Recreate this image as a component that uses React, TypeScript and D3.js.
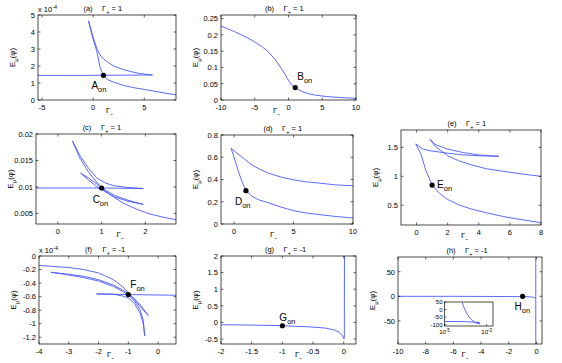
import React from "react";
import * as d3 from "d3";

type Pt = [number, number];

// ---- panel (a), y in units of 1e-4
const aFlat: Pt[] = [[-5.4, 1.45], [0, 1.45], [5.8, 1.47]];
const aUpper: Pt[] = [[-0.45, 4.65], [-0.2, 4.1], [0, 3.7], [0.34, 3.05], [0.68, 2.64], [1, 2.42], [1.37, 2.25], [2, 2.0], [3, 1.78], [3.76, 1.66], [4.5, 1.56], [5.8, 1.47]];
const aLower: Pt[] = [[-0.45, 4.65], [-0.2, 4.0], [0, 3.55], [0.34, 2.9], [0.68, 1.9], [1, 1.45], [1.4, 1.2], [2, 1.05], [3, 0.85], [4, 0.72], [5, 0.62], [6, 0.52], [7, 0.41], [8.1, 0.3]];
const aOn: Pt = [1, 1.45];

// ---- panel (b)
const bCurve: Pt[] = [[-10, 0.227], [-8, 0.21], [-6, 0.19], [-5, 0.178], [-4, 0.165], [-3, 0.148], [-2, 0.125], [-1, 0.095], [-0.5, 0.078], [0, 0.06], [0.5, 0.045], [1, 0.038], [1.5, 0.032], [2, 0.026], [3, 0.019], [4, 0.015], [5, 0.012], [6, 0.01], [8, 0.007], [10, 0.005]];
const bOn: Pt = [1, 0.038];

// ---- panel (c)
const cFlat: Pt[] = [[-0.5, 0.0098], [1, 0.0098], [1.95, 0.0097]];
const c1: Pt[] = [[0.33, 0.0187], [0.5, 0.0155], [0.7, 0.0128], [0.9, 0.0108], [1, 0.0098], [1.2, 0.0085], [1.5, 0.0069], [1.8, 0.0058], [2.1, 0.0049], [2.4, 0.0043], [2.7, 0.0038]];
const c2: Pt[] = [[0.33, 0.0187], [0.5, 0.016], [0.7, 0.0135], [0.9, 0.0116], [1.1, 0.0107], [1.3, 0.0102], [1.6, 0.0099], [1.95, 0.0097]];
const c3: Pt[] = [[0.52, 0.0126], [0.7, 0.0117], [0.9, 0.0105], [1.1, 0.0093], [1.3, 0.0084], [1.6, 0.0075], [1.95, 0.0067]];
const c4: Pt[] = [[0.52, 0.0126], [0.7, 0.0113], [0.9, 0.01], [1.1, 0.009], [1.3, 0.0081], [1.6, 0.0073], [1.95, 0.0067]];
const cOn: Pt = [1, 0.0098];

// ---- panel (d)
const dUpper: Pt[] = [[-0.26, 0.68], [0.2, 0.64], [0.8, 0.59], [1.5, 0.53], [2.2, 0.49], [2.9, 0.457], [4, 0.42], [5, 0.397], [6, 0.38], [7.2, 0.367], [8.5, 0.352], [10, 0.343]];
const dLower: Pt[] = [[-0.26, 0.68], [0, 0.6], [0.37, 0.47], [0.7, 0.37], [1, 0.3], [1.5, 0.25], [2, 0.22], [2.9, 0.19], [4, 0.15], [5, 0.12], [6, 0.1], [7.2, 0.084], [8.5, 0.068], [10, 0.054]];
const dOn: Pt = [1, 0.3];

// ---- panel (e)
const eLow: Pt[] = [[-0.05, 1.56], [0.28, 1.385], [0.6, 1.1], [1, 0.85], [1.5, 0.7], [2, 0.6], [2.7, 0.51], [3.5, 0.437], [4.5, 0.37], [5.6, 0.305], [6.8, 0.25], [8, 0.2]];
const eFlat: Pt[] = [[-0.05, 1.56], [0.4, 1.47], [0.92, 1.44], [2, 1.4], [3, 1.37], [4, 1.355], [5.3, 1.345]];
const eMid: Pt[] = [[0.85, 1.64], [1.2, 1.55], [2, 1.47], [3, 1.41], [4, 1.37], [5.3, 1.345]];
const eHigh: Pt[] = [[0.85, 1.64], [1.2, 1.52], [2, 1.356], [2.7, 1.27], [3.5, 1.2], [4.5, 1.13], [5.6, 1.086], [6.8, 1.04], [8, 1.0]];
const eOn: Pt = [1, 0.85];

// ---- panel (f), y in units of 1e-4
const fTop: Pt[] = [[-4, -0.14], [-3, -0.17], [-2.5, -0.2], [-2, -0.25], [-1.5, -0.35], [-1.2, -0.45], [-1, -0.54], [-0.8, -0.64], [-0.6, -0.75], [-0.33, -0.88]];
const fA: Pt[] = [[-3.6, -0.24], [-3, -0.28], [-2.5, -0.32], [-2, -0.37], [-1.5, -0.45], [-1.2, -0.52], [-1, -0.58], [-0.8, -0.66], [-0.6, -0.8], [-0.5, -0.95], [-0.45, -1.18]];
const fB: Pt[] = [[-3.6, -0.24], [-3, -0.27], [-2.5, -0.3], [-2, -0.35], [-1.5, -0.43], [-1.2, -0.5], [-1, -0.56], [-0.8, -0.63], [-0.6, -0.72], [-0.33, -0.88]];
const fFlat: Pt[] = [[-2.07, -0.56], [-1, -0.57], [0.6, -0.58]];
const fHook: Pt[] = [[-2.07, -0.56], [-1.5, -0.565], [-1.2, -0.59], [-1, -0.62], [-0.8, -0.7], [-0.6, -0.85], [-0.5, -1.0], [-0.45, -1.18]];
const fOn: Pt = [-1, -0.57];

// ---- panel (g)
const gCurve: Pt[] = [[-2, -0.07], [-1.5, -0.08], [-1, -0.1], [-0.6, -0.13], [-0.3, -0.17], [-0.15, -0.23], [-0.07, -0.3], [-0.02, -0.4], [0.005, -0.5], [0.01, -0.45], [0.012, 2.1]];
const gOn: Pt = [-1, -0.1];

// ---- panel (h) and its inset
const hCurve: Pt[] = [[-10, 0], [-6, 0], [-3, -0.3], [-1, -0.6], [-0.5, -1], [-0.2, -2], [-0.05, -4]];
const hVert: Pt[] = [[-0.05, -100], [-0.05, 85]];
const hOn: Pt = [-1, 0];
const insetSteep: Pt[] = [[6.6e-5, 55], [8e-5, 20], [1e-4, -10], [1.3e-4, -40], [1.8e-4, -65], [2.5e-4, -82], [3.5e-4, -92], [4.8e-4, -95], [4.5e-4, -88], [3.5e-4, -84]];
const insetFlat: Pt[] = [[1e-5, -80], [5e-5, -80], [1e-4, -81], [2e-4, -83], [3.5e-4, -86], [4.5e-4, -88]];
const insetYTicks = [50, 0, -50, -100];
const insetXTicks = [1e-5, 1e-3];

const blue = "#4759ff";
const font = "Liberation Sans, Arial, sans-serif";
const fs = 7.5;

interface Panel {
  tag: string;
  gp: string;
  box: [number, number, number, number];
  xd: [number, number];
  yd: [number, number];
  xt: number[];
  yt: number[];
  curves: Pt[][];
  on: Pt;
  letter: string;
  lo: [number, number];
  gx: number; // x-label left offset from box left
  exp?: boolean;
}

const panels: Panel[] = [
  { tag: "(a)", gp: "1", box: [38, 15, 176, 100], xd: [-5.4, 8.1], yd: [0, 5], xt: [-5, 0, 5], yt: [0, 1, 2, 3, 4, 5], curves: [aFlat, aUpper, aLower], on: aOn, letter: "A", lo: [-12, 14], gx: 68, exp: true },
  { tag: "(b)", gp: "1", box: [221, 15, 356, 100], xd: [-10, 10], yd: [0, 0.261], xt: [-10, -5, 0, 5, 10], yt: [0, 0.05, 0.1, 0.15, 0.2, 0.25], curves: [bCurve], on: bOn, letter: "B", lo: [2, -8], gx: 52 },
  { tag: "(c)", gp: "1", box: [36, 134, 176, 224], xd: [-0.5, 2.7], yd: [0.003, 0.02], xt: [0, 1, 2], yt: [0.005, 0.01, 0.015, 0.02], curves: [cFlat, c1, c2, c3, c4], on: cOn, letter: "C", lo: [-9, 15], gx: 80.5 },
  { tag: "(d)", gp: "1", box: [221, 135, 353, 224], xd: [-1.1, 10], yd: [0, 0.8], xt: [0, 5, 10], yt: [0, 0.2, 0.4, 0.6, 0.8], curves: [dUpper, dLower], on: dOn, letter: "D", lo: [-11, 14], gx: 49 },
  { tag: "(e)", gp: "1", box: [401, 130, 541, 225], xd: [-1, 8], yd: [0.16, 1.8], xt: [0, 2, 4, 6, 8], yt: [0.5, 1, 1.5], curves: [eLow, eFlat, eMid, eHigh], on: eOn, letter: "E", lo: [5, 3], gx: 60 },
  { tag: "(f)", gp: "-1", box: [39, 256, 176, 344], xd: [-4, 0.6], yd: [-1.3, 0], xt: [-4, -3, -2, -1, 0], yt: [0, -0.2, -0.4, -0.6, -0.8, -1, -1.2], curves: [fTop, fA, fB, fFlat, fHook], on: fOn, letter: "F", lo: [2, -7], gx: 68, exp: true },
  { tag: "(g)", gp: "-1", box: [221, 256, 356, 344], xd: [-2, 0.2], yd: [-0.65, 2], xt: [-2, -1.5, -1, -0.5, 0], yt: [-0.5, 0, 0.5, 1, 1.5, 2], curves: [gCurve], on: gOn, letter: "G", lo: [-3, -5], gx: 74 },
  { tag: "(h)", gp: "-1", box: [398, 257, 542, 344], xd: [-10, 0.4], yd: [-97, 80], xt: [-10, -8, -6, -4, -2, 0], yt: [-50, 0, 50], curves: [hCurve, hVert], on: hOn, letter: "H", lo: [-8, 14], gx: 63.5 },
];

const fmt = (v: number) => d3.format("~g")(v).replace("\u2212", "-");
const tl = 2.5;

function PanelView({ p, i }: { p: Panel; i: number }) {
  const [l, t, r, b] = p.box;
  const x = d3.scaleLinear().domain(p.xd).range([l, r]);
  const y = d3.scaleLinear().domain(p.yd).range([b, t]);
  const line = d3.line<Pt>().x((d) => x(d[0])).y((d) => y(d[1]));
  const cx = (l + r) / 2;
  const cy = (t + b) / 2;
  const id = `clip${i}`;
  return (
    <g fontFamily={font}>
      <clipPath id={id}>
        <rect x={l} y={t} width={r - l} height={b - t} />
      </clipPath>
      <g clipPath={`url(#${id})`}>
        {p.curves.map((c, k) => (
          <path key={k} d={line(c) ?? ""} fill="none" stroke={blue} strokeWidth={0.9} />
        ))}
      </g>
      <rect x={l} y={t} width={r - l} height={b - t} fill="none" stroke="#000" strokeWidth={0.7} />
      {p.xt.map((v) => (
        <g key={`x${v}`}>
          <line x1={x(v)} x2={x(v)} y1={b} y2={b - tl} stroke="#000" strokeWidth={0.6} />
          <line x1={x(v)} x2={x(v)} y1={t} y2={t + tl} stroke="#000" strokeWidth={0.6} />
          <text x={x(v)} y={b + 10} fontSize={fs} textAnchor="middle">{fmt(v)}</text>
        </g>
      ))}
      {p.yt.map((v) => (
        <g key={`y${v}`}>
          <line x1={l} x2={l + tl} y1={y(v)} y2={y(v)} stroke="#000" strokeWidth={0.6} />
          <line x1={r} x2={r - tl} y1={y(v)} y2={y(v)} stroke="#000" strokeWidth={0.6} />
          <text x={l - 3} y={y(v) + 2.8} fontSize={fs} textAnchor="end">{fmt(v)}</text>
        </g>
      ))}
      {p.exp && (
        <text x={l} y={t - 3} fontSize={fs}>
          x 10<tspan dy={-3} fontSize={5.5}>-4</tspan>
        </text>
      )}
      <text x={cx - 19} y={t - 4} fontSize={fs} textAnchor="middle">{p.tag}</text>
      <text x={cx - 5} y={t - 4} fontSize={fs}>
        Γ<tspan dy={2.5} fontSize={5.5}>+</tspan><tspan dy={-2.5}> = {p.gp}</tspan>
      </text>
      <text x={l + p.gx} y={b + 13} fontSize={8}>
        Γ<tspan dy={3} fontSize={7}>-</tspan>
      </text>
      <text transform={`translate(${l - 23},${cy}) rotate(-90)`} fontSize={8} textAnchor="middle">
        E<tspan dy={2.5} fontSize={6}>μ</tspan><tspan dy={-2.5}>(φ)</tspan>
      </text>
      <circle cx={x(p.on[0])} cy={y(p.on[1])} r={2.6} fill="#000" />
      <text x={x(p.on[0]) + p.lo[0]} y={y(p.on[1]) + p.lo[1]} fontSize={10}>
        {p.letter}<tspan dy={3} fontSize={7.5}>on</tspan>
      </text>
    </g>
  );
}

function Inset() {
  const [l, t, r, b] = [444.5, 302, 493, 326];
  const x = d3.scaleLog().domain([1e-5, 2e-3]).range([l, r]);
  const y = d3.scaleLinear().domain([-110, 50]).range([b, t]);
  const line = d3.line<Pt>().x((d) => x(d[0])).y((d) => y(d[1]));
  return (
    <g fontFamily={font}>
      <rect x={l} y={t} width={r - l} height={b - t} fill="#fff" stroke="#000" strokeWidth={0.7} />
      <clipPath id="clipInset">
        <rect x={l} y={t} width={r - l} height={b - t} />
      </clipPath>
      <g clipPath="url(#clipInset)">
        <path d={line(insetSteep) ?? ""} fill="none" stroke={blue} strokeWidth={0.9} />
        <path d={line(insetFlat) ?? ""} fill="none" stroke={blue} strokeWidth={0.9} />
      </g>
      {insetYTicks.map((v) => (
        <g key={v}>
          <line x1={l} x2={l + 2} y1={y(v)} y2={y(v)} stroke="#000" strokeWidth={0.5} />
          <text x={l - 2} y={y(v) + 2} fontSize={6} textAnchor="end">{fmt(v)}</text>
        </g>
      ))}
      {insetXTicks.map((v) => (
        <g key={v}>
          <line x1={x(v)} x2={x(v)} y1={b} y2={b - 2} stroke="#000" strokeWidth={0.5} />
          <text x={x(v)} y={b + 8} fontSize={6} textAnchor="middle">
            10<tspan dy={-2.5} fontSize={4.5}>{Math.round(Math.log10(v))}</tspan>
          </text>
        </g>
      ))}
    </g>
  );
}

export default function App() {
  return (
    <svg width={562} height={363} style={{ position: "absolute", left: 0, top: 0, background: "#fff" }}>
      {panels.map((p, i) => (
        <PanelView key={p.tag} p={p} i={i} />
      ))}
      <Inset />
    </svg>
  );
}
